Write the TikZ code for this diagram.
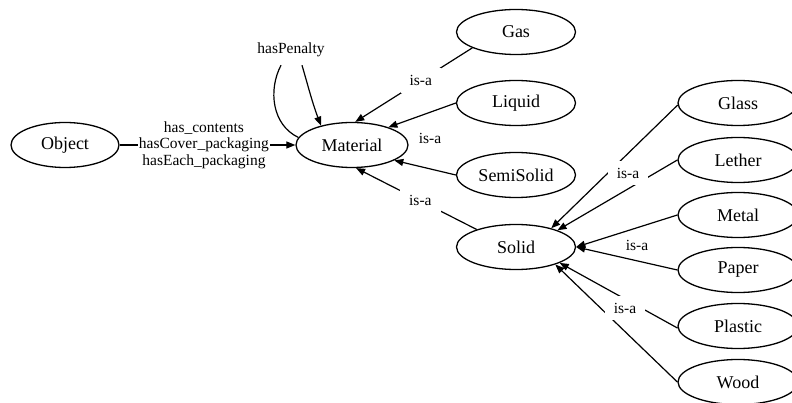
\documentclass[tikz,border=0pt]{standalone}
\usepackage{fontspec}
\setmainfont{Liberation Serif}
\usetikzlibrary{shapes.geometric,arrows.meta}
\begin{document}
\begin{tikzpicture}[x=1pt,y=-1pt,
  cls/.style={ellipse,draw,line width=1.3pt,minimum width=119pt,minimum height=45pt,
    inner sep=0pt,font=\fontsize{18}{20}\selectfont},
  rel/.style={line width=1.2pt,-{Triangle[length=9pt,width=7pt]}},
  plainline/.style={line width=1.2pt},
  lbl/.style={fill=white,inner xsep=9pt,inner ysep=7pt,font=\fontsize{15.5}{17}\selectfont},
  lblfree/.style={inner sep=1pt,font=\fontsize{15.5}{17}\selectfont}]
\useasboundingbox (0,0) rectangle (792,403);
\clip (0,0) rectangle (792,403);

% classes
\node[cls,minimum width=108pt] (object)   at (65,145)  {Object};
\node[cls,minimum width=112pt] (material) at (352,145) {Material};
\node[cls] (gas)       at (516,32)  {Gas};
\node[cls] (liquid)    at (516,103) {Liquid};
\node[cls] (semisolid) at (516,175) {SemiSolid};
\node[cls] (solid)     at (516,247) {Solid};
\node[cls,minimum width=120pt] (glass)   at (738,103) {Glass};
\node[cls,minimum width=120pt] (lether)  at (738,160) {Lether};
\node[cls,minimum width=120pt] (metal)   at (738,215) {Metal};
\node[cls,minimum width=120pt] (paper)   at (738,270) {Paper};
\node[cls,minimum width=120pt] (plastic) at (738,326) {Plastic};
\node[cls,minimum width=120pt] (wood)    at (738,382) {Wood};

% object properties
\draw[rel] (object.east) -- node[pos=0.48,fill=white,inner xsep=1pt,inner ysep=0pt,align=center,
    font=\fontsize{15.5}{16.5}\selectfont] {has\_contents\\hasCover\_packaging\\hasEach\_packaging} (material.west);
\node[lblfree] (pen) at (291,50) {hasPenalty};
\draw[plainline] (material.172) .. controls (272,125) and (268,90) .. ([xshift=-10pt,yshift=-7pt]pen.south);
\draw[rel] ([xshift=11pt,yshift=-7pt]pen.south) .. controls (307,82) and (312,102) .. (material.148);

% subclasses of Material
\draw[rel] (gas.200) -- node[lbl,pos=0.44] {is-a} (material.82);
\draw[rel] (liquid.180) -- (material.26) node[lblfree] at (430,138) {is-a};
\draw[rel] (semisolid.180) -- (material.340);
\draw[rel] (solid.156) -- node[lbl,pos=0.467] {is-a} (material.280);

% subclasses of Solid
\draw[rel] (lether.180) -- (solid.22);
\draw[rel] (glass.182) -- (solid.28) node[lbl] at (628,173) {is-a};
\draw[rel] (metal.180) -- (solid.east);
\draw[rel] (paper.180) -- (solid.east) node[lblfree] at (637,245) {is-a};
\draw[rel] (wood.180) -- (solid.336);
\draw[rel] (plastic.182) -- (solid.340) node[lbl] at (625,308) {is-a};
\end{tikzpicture}
\end{document}
